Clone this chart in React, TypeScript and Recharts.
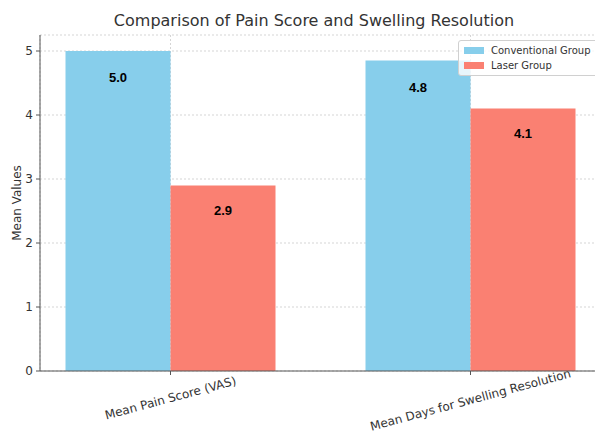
import React from 'react';
import { BarChart, Bar, XAxis, YAxis, CartesianGrid, LabelList } from 'recharts';

const categories = ['Mean Pain Score (VAS)', 'Mean Days for Swelling Resolution'];
const conventionalValues = [5.0, 4.85];
const laserValues = [2.9, 4.1];
const yTicks = [0, 1, 2, 3, 4, 5];
const seriesNames = ['Conventional Group', 'Laser Group'];
const seriesColors = ['#87CEEB', '#FA8072'];

const data = categories.map((name, i) => ({
  x: i,
  name,
  conventional: conventionalValues[i],
  laser: laserValues[i],
}));

const FONT = '"DejaVu Sans", sans-serif';
const CHART_W = 605;
const CHART_H = 436;

const XTick = (props: any) => {
  const { x, y, payload } = props;
  const label = categories[payload.value] ?? '';
  const fs = 12;
  const ang = (15 * Math.PI) / 180;
  const w = label.length * fs * 0.5;
  const bboxH = w * Math.sin(ang) + fs * Math.cos(ang);
  const wFull = label.length * fs * 0.55;
  const bboxFull = wFull * Math.sin(ang) + fs * Math.cos(ang) + 2;
  const cy = Math.min(y + bboxH / 2, CHART_H - 1 - bboxFull / 2);
  return (
    <text
      x={x}
      y={cy}
      textAnchor="middle"
      dominantBaseline="central"
      transform={`rotate(-15, ${x}, ${cy})`}
      fontSize={fs}
      fill="#333"
      fontFamily={FONT}
    >
      {label}
    </text>
  );
};

const YLabel = (props: any) => {
  const vb = props.viewBox || {};
  const cx = vb.x + 17;
  const cy = vb.y + vb.height / 2;
  return (
    <text
      x={cx}
      y={cy}
      textAnchor="middle"
      dominantBaseline="central"
      transform={`rotate(-90, ${cx}, ${cy})`}
      fontSize={12}
      fill="#333"
      fontFamily={FONT}
    >
      Mean Values
    </text>
  );
};

const labelStyle = {
  fontSize: 13,
  fontWeight: 'bold' as const,
  fill: '#000',
  fontFamily: '"Liberation Sans", Arial, sans-serif',
};

export default function App() {
  return (
    <div
      style={{
        position: 'absolute',
        left: 0,
        top: 0,
        width: 595,
        height: CHART_H,
        overflow: 'hidden',
        background: '#fff',
      }}
    >
      <div
        style={{
          position: 'absolute',
          top: 10,
          left: 0,
          width: 628,
          textAlign: 'center',
          fontFamily: FONT,
          fontSize: 16,
          color: '#333',
          lineHeight: '22px',
        }}
      >
        Comparison of Pain Score and Swelling Resolution
      </div>
      <BarChart
        width={CHART_W}
        height={CHART_H}
        data={data}
        margin={{ top: 35, right: 4, left: 0, bottom: 0 }}
        barGap={0}
      >
        <CartesianGrid stroke="#d5d5d5" strokeDasharray="2 2" />
        <XAxis
          type="number"
          dataKey="x"
          domain={[-0.435, 1.435]}
          ticks={[0, 1]}
          allowDataOverflow
          height={65}
          tickSize={4}
          tickMargin={1}
          tick={<XTick />}
          tickLine={{ stroke: '#555' }}
          axisLine={{ stroke: '#555' }}
          interval={0}
        />
        <YAxis
          type="number"
          domain={[0, 5.25]}
          ticks={yTicks}
          width={40}
          tickSize={4}
          tickMargin={3}
          tick={{ fontSize: 12, fill: '#333', fontFamily: FONT }}
          tickLine={{ stroke: '#555' }}
          axisLine={{ stroke: '#555' }}
          label={<YLabel />}
        />
        <Bar dataKey="conventional" name={seriesNames[0]} fill={seriesColors[0]} barSize={105} isAnimationActive={false}>
          <LabelList
            dataKey="conventional"
            position="insideTop"
            offset={22}
            formatter={(v: any) => Number(v).toFixed(1)}
            style={labelStyle}
          />
        </Bar>
        <Bar dataKey="laser" name={seriesNames[1]} fill={seriesColors[1]} barSize={105} isAnimationActive={false}>
          <LabelList
            dataKey="laser"
            position="insideTop"
            offset={20}
            formatter={(v: any) => Number(v).toFixed(1)}
            style={labelStyle}
          />
        </Bar>
      </BarChart>
      <div
        style={{
          position: 'absolute',
          top: 40,
          left: 458,
          border: '1px solid #d0d0d0',
          borderRadius: 3,
          background: 'rgba(255,255,255,0.8)',
          padding: '2px 4px 2px 5px',
          width: 145,
          boxSizing: 'border-box',
          fontFamily: FONT,
          fontSize: 10,
          color: '#333',
        }}
      >
        {seriesNames.map((n, i) => (
          <div key={n} style={{ display: 'flex', alignItems: 'center', height: 15 }}>
            <span
              style={{
                display: 'inline-block',
                width: 20,
                height: 7,
                background: seriesColors[i],
                marginRight: 7,
              }}
            />
            <span>{n}</span>
          </div>
        ))}
      </div>
    </div>
  );
}
